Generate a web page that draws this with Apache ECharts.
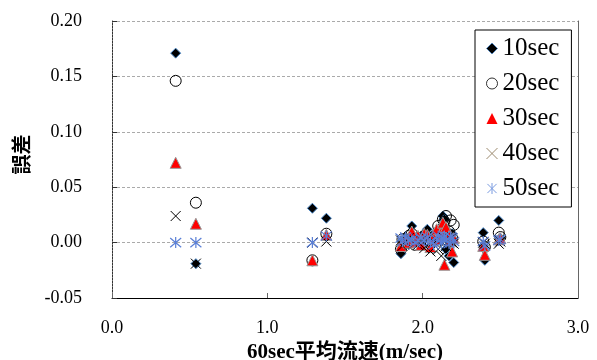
<!DOCTYPE html>
<html>
<head>
<meta charset="utf-8">
<script src="https://cdn.jsdelivr.net/npm/echarts@6/dist/echarts.min.js"></script>
<style>html,body{margin:0;padding:0;background:#fff;}#c{width:597px;height:360px;}</style>
</head>
<body>
<div id="c"></div>
<script>
var seriesNames = ['10sec', '20sec', '30sec', '40sec', '50sec'];
var xs = [0.41, 0.54, 1.29, 1.38,
  1.86, 1.87, 1.89, 1.91, 1.93, 1.95, 1.97, 1.99, 2.01, 2.03, 2.05, 2.07, 2.09, 2.10, 2.12, 2.13, 2.14, 2.15, 2.17, 2.18, 2.19, 2.20,
  2.39, 2.40, 2.49, 2.50];
var err10 = [0.171, -0.019, 0.031, 0.022,
  -0.010, 0.002, 0.005, -0.002, 0.015, 0.003, 0.000, 0.006, 0.004, 0.012, -0.003, 0.007, 0.002, 0.010, 0.005, 0.024, 0.021, -0.006, -0.012, 0.003, 0.008, -0.018,
  0.009, -0.016, 0.020, 0.004];
var err20 = [0.146, 0.036, -0.016, 0.008,
  -0.006, 0.003, 0.001, 0.006, 0.008, -0.002, 0.004, 0.002, 0.006, 0.003, 0.001, 0.005, 0.007, 0.015, 0.012, 0.021, 0.019, 0.024, 0.010, 0.020, 0.004, 0.016,
  0.001, -0.004, 0.009, 0.005];
var err30 = [0.072, 0.017, -0.016, 0.007,
  -0.003, 0.002, 0.004, 0.000, 0.010, 0.001, 0.006, -0.002, 0.008, 0.007, -0.004, 0.005, 0.012, 0.003, 0.009, 0.018, -0.020, 0.014, 0.006, 0.002, -0.008, 0.004,
  -0.003, -0.011, 0.003, 0.004];
var err40 = [0.024, -0.019, 0.000, 0.001,
  0.002, -0.003, 0.001, 0.004, 0.003, 0.000, -0.002, 0.002, -0.005, 0.003, -0.008, 0.001, 0.002, -0.006, -0.012, 0.005, 0.001, -0.003, 0.002, 0.004, 0.000, -0.001,
  0.000, -0.001, -0.001, 0.001];
var err50 = [0.000, 0.000, 0.000, 0.006,
  0.004, 0.001, 0.005, 0.002, 0.003, 0.000, 0.002, 0.004, 0.002, 0.005, 0.001, -0.002, 0.003, 0.006, 0.000, 0.004, 0.006, 0.002, -0.001, 0.005, 0.004, 0.001,
  0.001, -0.003, 0.002, 0.003];
var yTicks = [-0.05, 0.20, 0.05];
var xTicks = [0, 3, 1];

function pairs(ys) { return xs.map(function (x, i) { return [x, ys[i]]; }); }

var X_PATH = 'path://M0 0L10 10M10 0L0 10';
var STAR_PATH = 'path://M0 0L10 10M10 0L0 10M5 -1L5 11';
var serif = '"Liberation Serif", "Times New Roman", serif';
var bold = '"Liberation Serif", "Noto Sans CJK JP", serif';

var chart = echarts.init(document.getElementById('c'), null, {renderer: 'canvas'});
chart.setOption({
  animation: false,
  backgroundColor: '#fff',
  grid: {left: 112, right: 19, top: 21, bottom: 62, containLabel: false, outerBoundsMode: 'none'},
  legend: {
    orient: 'vertical', left: 475, top: 30,
    padding: [6, 12, 6, 9], itemGap: 10,
    itemWidth: 11, itemHeight: 11,
    backgroundColor: '#fff', borderColor: '#000', borderWidth: 1,
    textStyle: {fontFamily: serif, fontSize: 25, color: '#000'},
    data: [
      {name: '10sec', itemStyle: {borderWidth: 0.8}},
      {name: '20sec', itemStyle: {borderWidth: 0.8}},
      {name: '30sec', itemStyle: {borderWidth: 0}},
      {name: '40sec', itemStyle: {borderColor: '#9c8a6e', borderWidth: 1}},
      {name: '50sec', itemStyle: {borderColor: '#7a9be0', borderWidth: 1}}
    ]
  },
  xAxis: [{
    type: 'value', min: xTicks[0], max: xTicks[1], interval: xTicks[2],
    name: '60sec平均流速(m/sec)', nameLocation: 'middle', nameGap: 41,
    nameTextStyle: {fontFamily: bold, fontSize: 21, fontWeight: 'bold', color: '#000'},
    axisLine: {show: true, onZero: false, lineStyle: {color: '#000', width: 1}},
    axisTick: {show: true, inside: true, length: 5, lineStyle: {color: '#666'}},
    axisLabel: {fontFamily: serif, fontSize: 18, color: '#000', margin: 21,
      formatter: function (v) { return v.toFixed(1); }},
    splitLine: {show: false}
  }],
  yAxis: [{
    type: 'value', min: yTicks[0], max: yTicks[1], interval: yTicks[2],
    name: '誤差', nameLocation: 'middle', nameGap: 70,
    nameTextStyle: {fontFamily: bold, fontSize: 20, fontWeight: 'bold', color: '#000', padding: [0, 0, 0, 10]},
    axisLine: {show: true, onZero: false, lineStyle: {color: '#333', width: 1, type: [2, 1]}},
    axisTick: {show: true, inside: true, length: 5, lineStyle: {color: '#333'}},
    axisLabel: {fontFamily: serif, fontSize: 18, color: '#000', margin: 30,
      formatter: function (v) { return v.toFixed(2); }},
    splitLine: {show: true, lineStyle: {color: '#aaa', type: [3, 2], width: 1}}
  }, {
    type: 'value', min: yTicks[0], max: yTicks[1], interval: yTicks[2], position: 'right',
    axisLine: {show: true, onZero: false, lineStyle: {color: '#666', width: 1}},
    axisTick: {show: false}, axisLabel: {show: false}, splitLine: {show: false}
  }],
  series: [
    {name: seriesNames[0], type: 'scatter', data: pairs(err10), symbol: 'diamond', symbolSize: 10,
      itemStyle: {color: '#000', borderColor: '#4a86c5', borderWidth: 1, opacity: 1}},
    {name: seriesNames[1], type: 'scatter', data: pairs(err20), symbol: 'circle', symbolSize: 11,
      itemStyle: {color: 'rgba(255,255,255,0)', borderColor: '#000', borderWidth: 1, opacity: 1}},
    {name: seriesNames[2], type: 'scatter', data: pairs(err30), symbol: 'triangle', symbolSize: 11,
      itemStyle: {color: '#ff0000', borderColor: '#999', borderWidth: 1, opacity: 1}},
    {name: seriesNames[3], type: 'scatter', data: pairs(err40), symbol: X_PATH, symbolSize: 10,
      itemStyle: {color: 'none', borderColor: '#000', borderWidth: 1, opacity: 1}},
    {name: seriesNames[4], type: 'scatter', data: pairs(err50), symbol: STAR_PATH, symbolSize: 11,
      itemStyle: {color: 'none', borderColor: '#5a7fd6', borderWidth: 1.2, opacity: 1}}
  ]
});
</script>
</body>
</html>
